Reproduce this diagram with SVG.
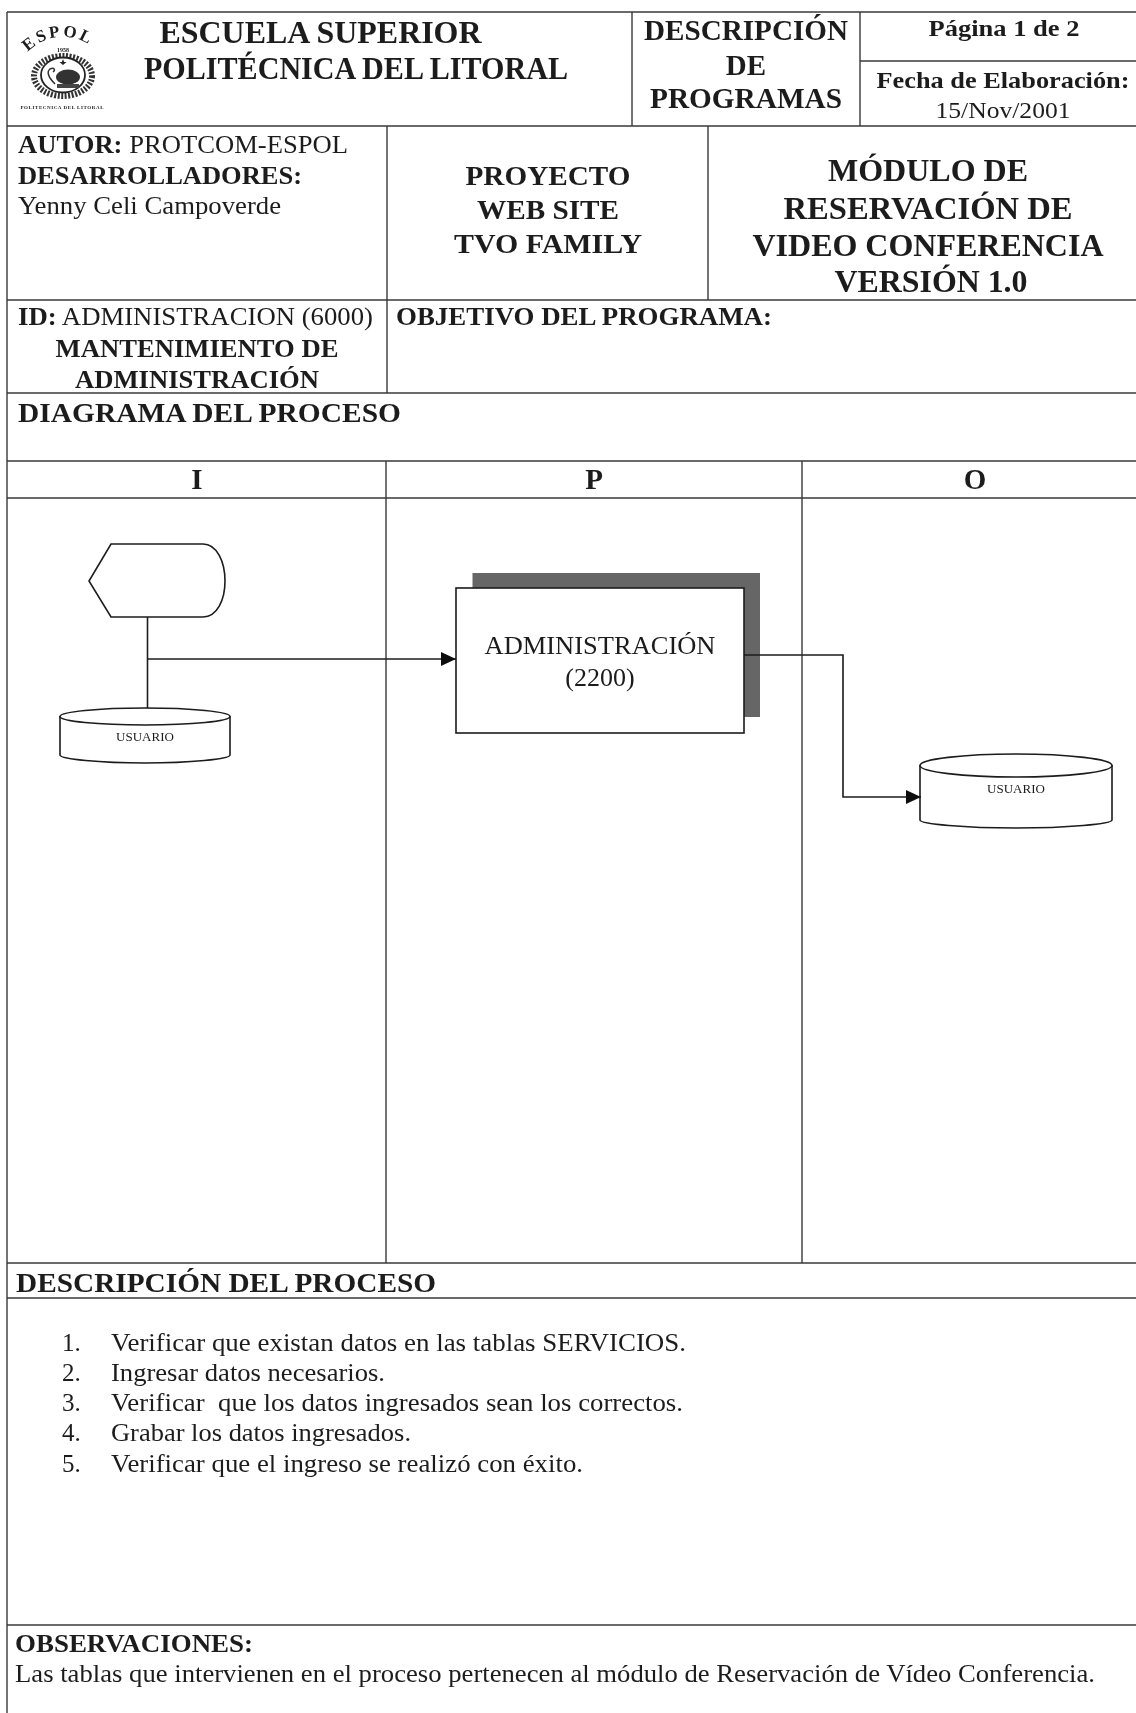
<svg xmlns="http://www.w3.org/2000/svg" width="1136" height="1713" viewBox="0 0 1136 1713">
<style>
text{font-family:"Liberation Serif","Times New Roman",serif;fill:#1c1c1c}
.b{font-weight:700}.m{text-anchor:middle}
.g{stroke:#3a3a3a;stroke-width:1.4;fill:none}
.s{stroke:#1c1c1c;stroke-width:1.6;fill:#fff}
.c{stroke:#1c1c1c;stroke-width:1.6;fill:none}
.h1{font-size:32px}.h2{font-size:29px}.h3{font-size:28px}.t{font-size:25px}.n{font-size:25px}
</style>
<defs>
<marker id="a" markerUnits="userSpaceOnUse" markerWidth="16" markerHeight="14" refX="15" refY="7" orient="auto"><path d="M0 0L15 7L0 14Z" fill="#111"/></marker>
<path id="arc" d="M28 52A48 48 0 0 1 98 52" fill="none"/>
<filter id="soft" filterUnits="userSpaceOnUse" x="0" y="0" width="1136" height="1713"><feGaussianBlur stdDeviation="0.45"/></filter>
</defs>
<rect width="1136" height="1713" fill="#fff"/>
<g id="page" filter="url(#soft)">
<g id="grid" class="g">
<path d="M7 12H1136M7 126H1136M7 300H1136M7 393H1136M7 461H1136M7 498H1136M7 1263H1136M7 1298H1136M7 1625H1136M860 61H1136"/>
<path d="M7 12V1713M632 12V126M860 12V126M387 126V393M708 126V300M386 461V1263M802 461V1263"/>
</g>
<g id="logo">
<text class="b" font-size="17" letter-spacing="2.500"><textPath href="#arc">ESPOL</textPath></text>
<ellipse cx="63" cy="76" rx="29" ry="20" fill="none" stroke="#333" stroke-width="6" stroke-dasharray="2 1.500"/>
<ellipse cx="63" cy="75" rx="22" ry="17.500" fill="#fff" stroke="#222" stroke-width="1.800"/>
<path d="M63 59L64.500 63H61.500Z M59.500 62H66.500L63 65Z" fill="#222"/>
<path d="M55 84C49 78 46 72 50 69C54 67 56 70 53 72" fill="none" stroke="#333" stroke-width="1.500"/>
<ellipse cx="68" cy="77" rx="12" ry="7.500" fill="#333"/>
<path d="M57 84H79V88H57Z" fill="#444"/>
<text class="b m" x="63" y="52" font-size="6">1958</text>
<text class="b m" x="62" y="109" font-size="5" textLength="83">POLITECNICA DEL LITORAL</text>
</g>
<g id="header">
<text class="b m h1" x="320.500" y="43" textLength="322" lengthAdjust="spacingAndGlyphs">ESCUELA SUPERIOR</text>
<text class="b m" font-size="31" x="356" y="79" textLength="424" lengthAdjust="spacingAndGlyphs">POLITÉCNICA DEL LITORAL</text>
<text class="b m h2" x="746" y="40" textLength="204" lengthAdjust="spacingAndGlyphs">DESCRIPCIÓN</text>
<text class="b m h2" x="746" y="75">DE</text>
<text class="b m h2" x="746" y="108" textLength="192" lengthAdjust="spacingAndGlyphs">PROGRAMAS</text>
<text class="b m" font-size="23.500" x="1004" y="36" textLength="151" lengthAdjust="spacingAndGlyphs">Página 1 de 2</text>
<text class="b m" font-size="23.500" x="1003" y="88" textLength="253" lengthAdjust="spacingAndGlyphs">Fecha de Elaboración:</text>
<text class="m" font-size="23" x="1003" y="118" textLength="135" lengthAdjust="spacingAndGlyphs">15/Nov/2001</text>
</g>
<g id="autor" class="t">
<text x="18" y="153" textLength="330" lengthAdjust="spacingAndGlyphs"><tspan class="b">AUTOR:</tspan> PROTCOM-ESPOL</text>
<text class="b" x="18" y="184" textLength="284" lengthAdjust="spacingAndGlyphs">DESARROLLADORES:</text>
<text x="18" y="214" textLength="263" lengthAdjust="spacingAndGlyphs">Yenny Celi Campoverde</text>
</g>
<g id="proyecto">
<text class="b m h3" x="548" y="185" textLength="165" lengthAdjust="spacingAndGlyphs">PROYECTO</text>
<text class="b m h3" x="548" y="219" textLength="142" lengthAdjust="spacingAndGlyphs">WEB SITE</text>
<text class="b m h3" x="548" y="253" textLength="188" lengthAdjust="spacingAndGlyphs">TVO FAMILY</text>
</g>
<g id="modulo">
<text class="b m h1" x="928" y="181" textLength="200" lengthAdjust="spacingAndGlyphs">MÓDULO DE</text>
<text class="b m h1" x="928" y="219" textLength="289" lengthAdjust="spacingAndGlyphs">RESERVACIÓN DE</text>
<text class="b m h1" x="928" y="256" textLength="351" lengthAdjust="spacingAndGlyphs">VIDEO CONFERENCIA</text>
<text class="b m h1" x="931" y="292" textLength="193" lengthAdjust="spacingAndGlyphs">VERSIÓN 1.0</text>
</g>
<g id="id">
<text class="t" x="18" y="325" textLength="355" lengthAdjust="spacingAndGlyphs"><tspan class="b">ID:</tspan> ADMINISTRACION (6000)</text>
<text class="b m t" x="197" y="357" textLength="283" lengthAdjust="spacingAndGlyphs">MANTENIMIENTO DE</text>
<text class="b m t" x="197" y="388" textLength="244" lengthAdjust="spacingAndGlyphs">ADMINISTRACIÓN</text>
</g>
<text id="objetivo" class="b t" x="396" y="325" textLength="376" lengthAdjust="spacingAndGlyphs">OBJETIVO DEL PROGRAMA:</text>
<text id="diagrama" class="b h3" x="18" y="422" textLength="383" lengthAdjust="spacingAndGlyphs">DIAGRAMA DEL PROCESO</text>
<g id="cols" class="b h2">
<text class="m" x="197" y="489">I</text>
<text class="m" x="594" y="489">P</text>
<text class="m" x="975" y="489">O</text>
</g>
<g id="start">
<path class="s" d="M111 544H203C217 544 225 562 225 581C225 600 217 617 203 617H111L89 581Z"/>
</g>
<g id="usuario-in">
<path class="s" d="M60 716V755C60 759 100 763 145 763C190 763 230 759 230 755V716"/>
<ellipse class="s" cx="145" cy="716.500" rx="85" ry="8.500"/>
<text class="m" font-size="13" x="145" y="741">USUARIO</text>
</g>
<g id="proceso">
<rect x="472.500" y="573" width="287.500" height="144" fill="#666"/>
<rect class="s" x="456" y="588" width="288" height="145"/>
<text class="m" font-size="26" x="600" y="654" textLength="231" lengthAdjust="spacingAndGlyphs">ADMINISTRACIÓN</text>
<text class="m" font-size="26" x="600" y="686">(2200)</text>
</g>
<g id="usuario-out">
<path class="s" d="M920 765V820C920 824 965 828 1016 828C1067 828 1112 824 1112 820V765"/>
<ellipse class="s" cx="1016" cy="765.500" rx="96" ry="11.500"/>
<text class="m" font-size="13" x="1016" y="793">USUARIO</text>
</g>
<g id="connectors" class="c">
<path d="M147.500 617V708"/>
<path d="M147.500 659H456" marker-end="url(#a)"/>
<path d="M744 655H843V797H921" marker-end="url(#a)"/>
</g>
<text id="descripcion" class="b h3" x="16" y="1292" textLength="420" lengthAdjust="spacingAndGlyphs">DESCRIPCIÓN DEL PROCESO</text>
<g id="lista" class="n">
<text x="62" y="1351">1.</text><text x="111" y="1351" textLength="575" lengthAdjust="spacingAndGlyphs">Verificar que existan datos en las tablas SERVICIOS.</text>
<text x="62" y="1381">2.</text><text x="111" y="1381" textLength="274" lengthAdjust="spacingAndGlyphs">Ingresar datos necesarios.</text>
<text x="62" y="1411">3.</text><text x="111" y="1411" textLength="572" lengthAdjust="spacingAndGlyphs" xml:space="preserve">Verificar  que los datos ingresados sean los correctos.</text>
<text x="62" y="1441">4.</text><text x="111" y="1441" textLength="300" lengthAdjust="spacingAndGlyphs">Grabar los datos ingresados.</text>
<text x="62" y="1472">5.</text><text x="111" y="1472" textLength="472" lengthAdjust="spacingAndGlyphs">Verificar que el ingreso se realizó con éxito.</text>
</g>
<g id="observaciones">
<text class="b" font-size="25" x="15" y="1652" textLength="238" lengthAdjust="spacingAndGlyphs">OBSERVACIONES:</text>
<text font-size="25" x="15" y="1682" textLength="1080" lengthAdjust="spacingAndGlyphs">Las tablas que intervienen en el proceso pertenecen al módulo de Reservación de Vídeo Conferencia.</text>
</g>
</g>
</svg>
